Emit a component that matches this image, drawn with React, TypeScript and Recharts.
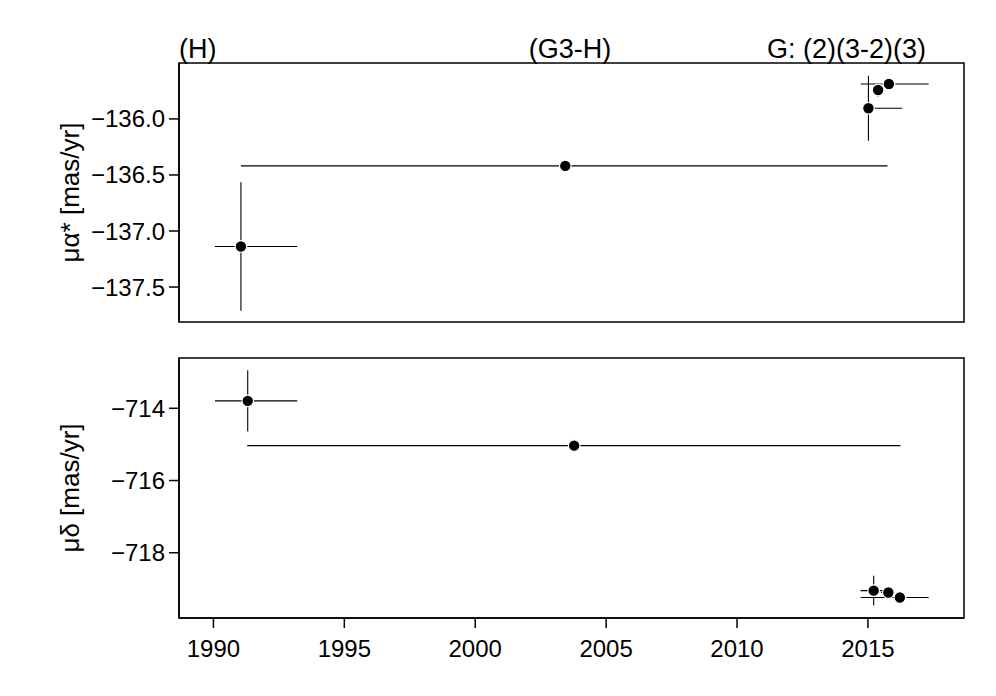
import React from "react"
import { ScatterChart, Scatter, XAxis, YAxis, ErrorBar, ReferenceArea, Label } from "recharts"

// epochs (yr), epoch spans and proper motions
const names = ["H", "G3-H", "G2", "G3-2", "G3"]

const raEpoch = [1991.05, 2003.44, 2015.02, 2015.39, 2015.8]
const raSpanLo = [1990.05, 1991.05, 2014.78, 2015.2, 2014.72]
const raSpanHi = [1993.2, 2015.75, 2016.31, 2015.6, 2017.32]
const pmRa = [-137.138, -136.419, -135.905, -135.742, -135.688]
const pmRaErr = [0.574, 0.003, 0.29, 0.06, 0.02]

const decEpoch = [1991.31, 2003.78, 2015.22, 2015.78, 2016.22]
const decSpanLo = [1990.06, 1991.29, 2014.72, 2015.5, 2014.72]
const decSpanHi = [1993.2, 2016.24, 2016.0, 2016.0, 2017.32]
const pmDec = [-713.793, -715.034, -719.05, -719.1, -719.24]
const pmDecErr = [0.85, 0.01, 0.41, 0.06, 0.03]

const xTicks = [1990, 1995, 2000, 2005, 2010, 2015]
const raTicks = [-136.0, -136.5, -137.0, -137.5]
const decTicks = [-714, -716, -718]

const xDomain: [number, number] = [1988.685, 2018.67]
const raDomain: [number, number] = [-137.812, -135.501]
const decDomain: [number, number] = [-719.807, -712.607]

const build = (ep: number[], lo: number[], hi: number[], v: number[], e: number[]) =>
  names.map((n, i) => ({ name: n, x: ep[i], y: v[i], ex: [ep[i] - lo[i], hi[i] - ep[i]], ey: e[i] }))

const raData = build(raEpoch, raSpanLo, raSpanHi, pmRa, pmRaErr)
const decData = build(decEpoch, decSpanLo, decSpanHi, pmDec, pmDecErr)

const FONT = "'Liberation Sans', Arial, sans-serif"
const tickStyle = { fontSize: 24, fill: "#000", fontFamily: FONT }
const minus = (s: string) => s.replace("-", "\u2212")

const Dot = (p: any) => <circle cx={p.cx} cy={p.cy} r={5.8} fill="#000" stroke="#fff" strokeWidth={1.2} />

const yLabel = (text: string) => (props: any) => {
  const vb = props.viewBox
  const cy = vb.y + vb.height / 2
  return (
    <text x={62} y={cy} transform={`rotate(-90 62 ${cy})`} textAnchor="middle" dominantBaseline="central"
      style={{ fontSize: 26, fontFamily: FONT, fill: "#000" }}>
      {text}
    </text>
  )
}

function Panel(props: { data: any[]; domain: [number, number]; ticks: number[]; fmt: (v: number) => string; label: string; top: number; height: number; margin: any; showX: boolean }) {
  const { data, domain, ticks, fmt, label, top, height, margin, showX } = props
  return (
    <div style={{ position: "absolute", left: 0, top }}>
      <ScatterChart width={980} height={height} margin={margin}>
        <XAxis type="number" dataKey="x" domain={xDomain} ticks={xTicks} hide={!showX} height={70}
          allowDataOverflow tick={tickStyle} tickSize={10} tickMargin={12}
          axisLine={{ stroke: "#000", strokeWidth: 1.5 }} tickLine={{ stroke: "#000", strokeWidth: 1.5 }} />
        <YAxis type="number" dataKey="y" domain={domain} ticks={ticks} width={171} allowDataOverflow
          tick={tickStyle} tickSize={10} tickMargin={4} tickFormatter={(v: number) => minus(fmt(v))}
          axisLine={{ stroke: "#000", strokeWidth: 1.5 }} tickLine={{ stroke: "#000", strokeWidth: 1.5 }}>
          <Label content={yLabel(label)} />
        </YAxis>
        <ReferenceArea x1={xDomain[0]} x2={xDomain[1]} y1={domain[0]} y2={domain[1]} fill="none"
          stroke="#000" strokeWidth={1.5} fillOpacity={0} />
        <Scatter data={data} isAnimationActive={false} shape={Dot}>
          <ErrorBar dataKey="ex" direction="x" width={0} stroke="#000" strokeWidth={1.1} />
          <ErrorBar dataKey="ey" direction="y" width={0} stroke="#000" strokeWidth={1.1} />
        </Scatter>
      </ScatterChart>
    </div>
  )
}

const topText = { position: "absolute" as const, top: 26, fontSize: 27, fontFamily: FONT, color: "#000", lineHeight: "30px", whiteSpace: "nowrap" as const }

export default function App() {
  return (
    <div style={{ position: "relative", width: 980, height: 680, background: "#fff" }}>
      <Panel data={raData} domain={raDomain} ticks={raTicks} fmt={(v) => v.toFixed(1)} label={"\u03bc\u03b1* [mas/yr]"}
        top={0} height={330} margin={{ top: 55, right: 24, left: 0, bottom: 16 }} showX={false} />
      <Panel data={decData} domain={decDomain} ticks={decTicks} fmt={(v) => v.toFixed(0)} label={"\u03bc\u03b4 [mas/yr]"}
        top={340} height={340} margin={{ top: 10, right: 24, left: 0, bottom: 0 }} showX={true} />
      <div style={{ ...topText, left: 171 }}>(H)</div>
      <div style={{ ...topText, left: 562, transform: "translateX(-50%)" }}>(G3-H)</div>
      <div style={{ ...topText, right: 62 }}>G: (2)(3-2)(3)</div>
    </div>
  )
}
